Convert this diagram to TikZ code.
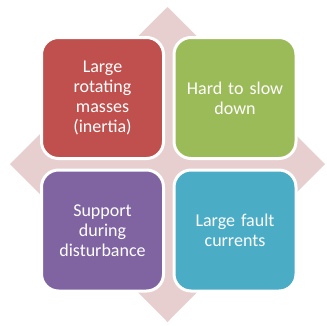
\documentclass[tikz,border=0pt]{standalone}
\usepackage{fontspec}
\setmainfont{Carlito}
\definecolor{bgpink}{RGB}{231,206,207}
\definecolor{qred}{RGB}{192,80,77}
\definecolor{qgreen}{RGB}{155,187,89}
\definecolor{qpurple}{RGB}{128,100,162}
\definecolor{qteal}{RGB}{75,172,198}
\begin{document}
\begin{tikzpicture}[x=1pt,y=-1pt,
  quad/.style={draw=white, line width=3pt, rounded corners=17pt,
    minimum width=122pt, minimum height=121pt, text width=112pt,
    align=center, text=white, inner sep=0pt,
    font=\fontsize{18}{20}\selectfont}]
\useasboundingbox (0,0) rectangle (327,325);
\fill[bgpink] (167.5,7) -- (325,164) -- (167.5,322) -- (10,164) -- cycle;
\node[quad, fill=qred] (a) at (102.5,98) {Large\\rotating\\masses\\(inertia)};
\node[quad, fill=qgreen] (b) at (235,98) {Hard to slow\\down};
\node[quad, fill=qpurple] (c) at (102.5,230.5) {Support\\during\\disturbance};
\node[quad, fill=qteal] (d) at (235,230.5) {Large fault\\currents};
\end{tikzpicture}
\end{document}
